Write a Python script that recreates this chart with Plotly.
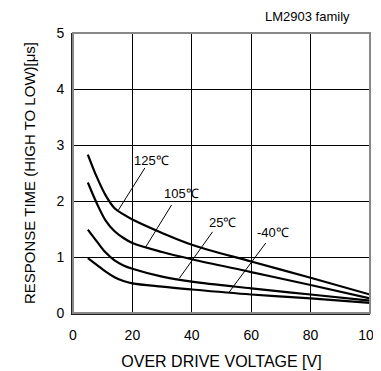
import plotly.graph_objects as go

# over drive voltage [V]
x_vals = [5, 8, 11, 14, 17, 20, 30, 40, 60, 80, 100]

# response time [us] per temperature
t125 = [2.83, 2.43, 2.10, 1.87, 1.76, 1.67, 1.43, 1.22, 0.92, 0.63, 0.33]
t105 = [2.33, 1.96, 1.65, 1.46, 1.34, 1.25, 1.09, 0.96, 0.73, 0.50, 0.26]
t25 = [1.49, 1.28, 1.08, 0.94, 0.85, 0.79, 0.65, 0.56, 0.44, 0.33, 0.22]
tm40 = [0.98, 0.86, 0.74, 0.64, 0.57, 0.53, 0.47, 0.42, 0.33, 0.26, 0.18]

labels = ["125℃", "105℃", "25℃", "-40℃"]
label_pos = [(26.5, 2.72), (36.6, 2.14), (50.4, 1.62), (67.2, 1.43)]
leaders = [((15.3, 1.84), (24.2, 2.59)),
           ((24.5, 1.18), (33.2, 1.93)),
           ((35.8, 0.62), (47.0, 1.45)),
           ((52.4, 0.36), (64.9, 1.25))]

font = "Liberation Sans, Arial, sans-serif"

fig = go.Figure()
for ys in [t125, t105, t25, tm40]:
    fig.add_trace(go.Scatter(x=x_vals, y=ys, mode="lines",
                             line=dict(color="black", width=2.2, shape="spline", smoothing=1),
                             showlegend=False, hoverinfo="skip"))

for (p0, p1) in leaders:
    fig.add_trace(go.Scatter(x=[p0[0], p1[0]], y=[p0[1], p1[1]], mode="lines",
                             line=dict(color="black", width=1),
                             showlegend=False, hoverinfo="skip"))

for txt, (lx, ly) in zip(labels, label_pos):
    fig.add_annotation(x=lx, y=ly, text=txt, showarrow=False,
                       font=dict(size=13, color="black", family=font))

# chart caption above the plot, right side
fig.add_annotation(x=(307 - 73) / 297, y=(313 - 16) / 280, xref="paper", yref="paper",
                   xanchor="center", yanchor="middle", text="LM2903 family",
                   showarrow=False, font=dict(size=13, color="black", family=font))

# grey frame on top/right
fig.add_shape(type="rect", xref="paper", yref="paper", x0=0, y0=0, x1=1, y1=1,
              line=dict(color="#888888", width=2), layer="above")

fig.update_xaxes(range=[0, 100], tickvals=[0, 20, 40, 60, 80, 100],
                 showgrid=True, gridcolor="black", gridwidth=1,
                 showline=True, linecolor="#222222", linewidth=2,
                 ticks="", zeroline=False, automargin=False, ticklabelstandoff=8,
                 ticklabeloverflow="allow",
                 tickfont=dict(size=14, color="black", family=font),
                 title=dict(text="OVER DRIVE VOLTAGE [V]", standoff=14,
                            font=dict(size=16, color="black", family=font)))
fig.update_yaxes(range=[0, 5], tickvals=[0, 1, 2, 3, 4, 5],
                 showgrid=True, gridcolor="black", gridwidth=1,
                 showline=True, linecolor="#222222", linewidth=2,
                 ticks="", zeroline=False, automargin=False, ticklabelstandoff=4,
                 tickfont=dict(size=14, color="black", family=font),
                 title=dict(text="RESPONSE TIME (HIGH TO LOW)[μs]", standoff=17,
                            font=dict(size=15, color="black", family=font)))

fig.update_layout(width=381, height=363, margin=dict(l=65, r=19, t=25, b=58),
                  plot_bgcolor="white", paper_bgcolor="white")

fig.write_html("out.html")
